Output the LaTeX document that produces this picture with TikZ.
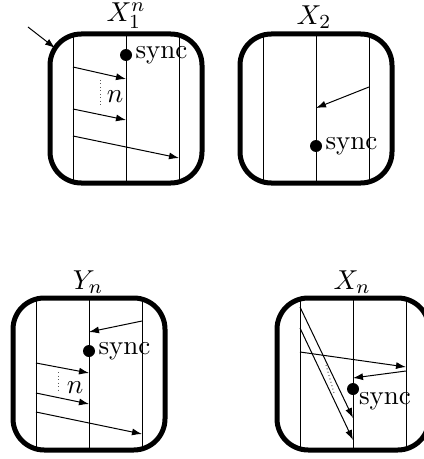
\documentclass[tikz,border=0pt]{standalone}
\usepackage{amsmath,amssymb}
\usepackage{tikz}
\usetikzlibrary{arrows.meta}

\tikzset{
  cellbox/.style={line width=2pt, rounded corners=12.5pt},
  msg/.style={-{Latex[length=4pt,width=2.8pt]}},
  syncdot/.style={circle, fill=black, inner sep=0pt, minimum size=4.8pt},
  lbl/.style={font=\fontsize{10.8}{13}\selectfont},
  title/.style={lbl, inner sep=0pt},
}

\begin{document}
\begin{tikzpicture}[x=0.4pt, y=-0.4pt]
    \useasboundingbox (0,0) rectangle (424,459);

    % box X_1^n
    \foreach \x in {73,126,179} \draw (\x,34) -- (\x,183);
    \draw[cellbox] (50,34) rectangle (202,183);
    \node[title] (t1) at (126,16) {$X_1^n$};
    \draw[msg] (28,27) -- (55,48);
    \node[syncdot] (d1) at (126,55) {};
    \node[lbl, right=0pt, inner sep=1pt] (s1) at (d1.east) {sync};
    \draw[msg] (73,67) -- (126,79);
    \draw[msg] (73,109) -- (126,120);
    \draw[densely dotted, gray!70!black] (100,80) -- (100,108);
    \node[lbl] (n1) at (115,97) {$n$};
    \draw[msg] (73,136) -- (179,158);

    % box X_2
    \foreach \x in {263,316,369} \draw (\x,34) -- (\x,183);
    \draw[cellbox] (240,34) rectangle (392,183);
    \node[title] (t2) at (314,17) {$X_2$};
    \draw[msg] (369,87) -- (316,108);
    \node[syncdot] (d2) at (316,146) {};
    \node[lbl, right=0pt, inner sep=1pt] (s2) at (d2.east) {sync};

    % box Y_n
    \foreach \x in {36,89,142} \draw (\x,298) -- (\x,450);
    \draw[cellbox] (13,298) rectangle (165,450);
    \node[title] (t3) at (88,282) {$Y_n$};
    \draw[msg] (142,321) -- (89,332);
    \node[syncdot] (d3) at (89,351) {};
    \node[lbl, right=0pt, inner sep=1pt] (s3) at (d3.east) {sync};
    \draw[msg] (36,363) -- (89,373);
    \draw[msg] (36,393) -- (89,404);
    \draw[densely dotted, gray!70!black] (58,372) -- (58,393);
    \node[lbl] (n3) at (75,388) {$n$};
    \draw[msg] (36,412) -- (142,434);

    % box X_n
    \foreach \x in {300,353,406} \draw (\x,298) -- (\x,450);
    \draw[cellbox] (277,298) rectangle (429,450);
    \node[title] (t4) at (352,282) {$X_n$};
    \draw[msg] (300,307) -- (353,418);
    \draw[msg] (300,328) -- (353,440);
    \draw[densely dotted, gray!70!black] (326,365) -- (334,393);
    \draw[msg] (300,352) -- (406,367);
    \draw[msg] (406,371) -- (353,378);
    \node[syncdot] (d4) at (353,389) {};
    \node[lbl, anchor=north west, inner sep=1pt] (s4) at (356,389) {sync};
\end{tikzpicture}
\end{document}
